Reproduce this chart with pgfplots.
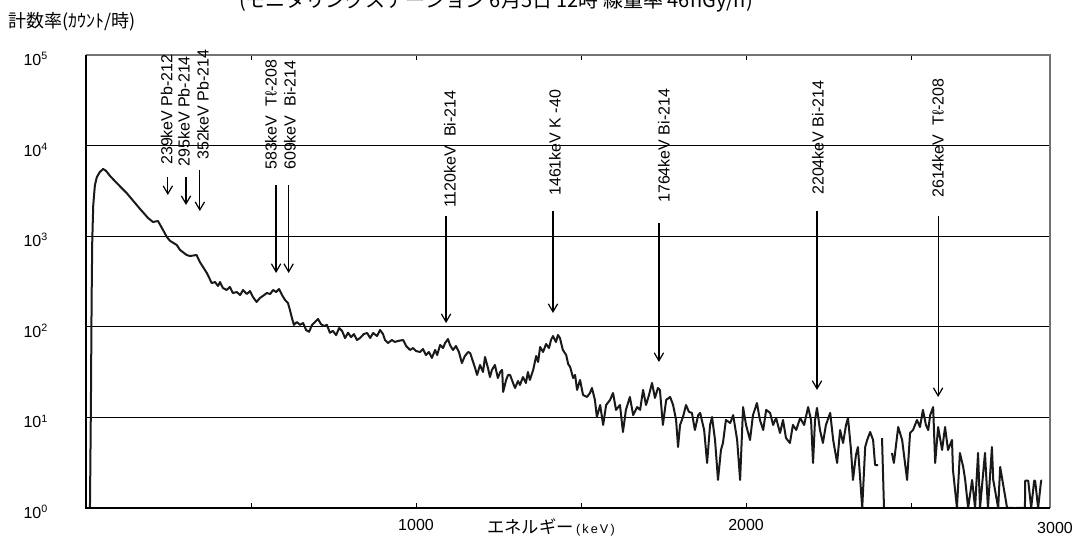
\documentclass[border=0pt]{standalone}
\usepackage{pgfplots}
\pgfplotsset{compat=1.18}
\usepackage{fontspec}
\setmainfont{Liberation Sans}
\newfontfamily\jp{Noto Sans CJK JP}
\usetikzlibrary{arrows.meta}
\begin{document}
\begin{tikzpicture}
\begin{axis}[
  at={(0,0)}, anchor=south west,
  scale only axis, width=723pt, height=339.75pt,
  xmin=0, xmax=2921, ymode=log, ymin=1, ymax=100000,
  axis line style={draw=none},
  xtick={500,1000,1500,2000,2500}, xticklabels={,1000,,2000,},
  xtick align=inside, major tick length=3.5pt,
  x tick style={black, line width=0.6pt},
  ytick={1,10,100,1000,10000,100000},
  yticklabels={10\textsuperscript{0},10\textsuperscript{1},10\textsuperscript{2},10\textsuperscript{3},10\textsuperscript{4},10\textsuperscript{5}},
  y tick style={draw=none},
  yticklabel style={font=\fontsize{12}{14}\selectfont, anchor=east, xshift=-25pt, yshift=-3pt},
  xticklabel style={font=\fontsize{12}{14}\selectfont, yshift=-5pt},
  ymajorgrids, major grid style={black, line width=0.6pt},
  unbounded coords=jump, clip=true,
]
\addplot[line width=1.5pt, color=black!90, line join=round] coordinates {
(12,1) (15,15.6) (17,198) (19,908) (22,2210) (27,3670) (33,4500) (42,5115) (52,5520) (61,5250) (73,4615) (93,3865) (123,3000) (164,1995) (188,1588) (203,1435) (218,1472) (230,1233) (245,980) (255,886) (275,800) (285,705) (305,620) (315,604) (335,620) (345,519) (366,393) (381,304) (391,312) (400,282) (406,312) (415,268) (426,255) (436,275) (445,236) (457,242) (467,224) (476,255) (487,230) (497,248) (506,213) (517,188) (527,208) (536,219) (548,236) (558,230) (567,255) (576,242) (585,261) (594,224) (603,198) (612,183) (618,153) (624,125) (630,105) (639,113) (648,105) (658,110) (667,92) (676,88) (685,105) (694,113) (703,122) (712,107) (721,102) (730,105) (739,86) (748,90) (758,81) (767,97) (776,90) (785,75) (794,86) (803,77) (812,83) (821,71.5) (830,75)
(842,83.3) (852,85.4) (861,75.2) (870,85.4) (882,79.1) (891,92.2) (900,83.3) (906,71.5) (915,66.2) (927,71.5) (936,68.0) (945,69.7) (961,71.5) (970,61.4) (982,55.5) (991,58.3) (1000,54.1) (1012,52.7) (1021,56.9) (1030,48.8) (1039,52.7) (1048,45.3) (1058,55.5) (1064,48.8) (1073,63.0) (1082,58.3) (1088,66.2) (1097,73.3) (1103,63.0) (1112,55.5) (1121,61.4) (1130,52.7) (1139,39.8) (1148,47.6) (1158,52.7) (1164,51.4) (1173,40.9) (1179,35.1) (1185,29.4) (1194,37.9) (1203,31.7) (1209,46.4) (1218,35.1) (1224,27.9) (1230,33.4) (1239,37.9) (1248,27.2) (1255,31.7) (1261,33.4) (1264,19.1) (1273,25.9) (1279,29.4) (1285,29.4) (1294,24.0) (1300,21.1) (1309,25.2) (1315,22.8) (1324,27.9) (1333,24.0) (1339,31.7) (1345,25.9) (1355,33.4) (1364,47.6) (1370,40.9) (1376,59.8) (1385,52.7) (1394,64.6) (1403,58.3) (1409,71.5) (1415,79.1) (1424,68.0) (1430,81.2) (1436,75.2) (1445,55.5) (1455,48.8) (1461,38.9) (1467,36.0) (1476,27.2) (1482,29.4) (1488,20.1) (1497,25.9) (1506,17.7) (1518,16.8) (1527,18.6) (1533,21.1) (1542,15.6) (1548,10.1) (1558,13.7) (1567,8.25) (1576,13.7) (1588,15.6) (1597,18.6) (1606,12.1) (1618,13.7) (1627,6.9) (1636,12.1) (1648,16.8) (1658,10.6) (1670,13.0) (1679,12.1) (1688,20.1) (1697,13.7) (1706,17.7) (1715,24.0) (1724,16.4) (1733,21.1) (1739,20.1) (1748,8.25) (1758,15.6) (1770,16.8) (1779,13.7) (1788,9.36) (1794,4.71) (1800,8.25) (1809,10.1) (1818,13.7) (1827,11.5) (1836,11.2) (1845,7.26) (1855,10.6) (1861,11.2)
(1873,7.26) (1882,3.14) (1891,8.25) (1897,10.1) (1906,5.63) (1915,2.04) (1924,4.37) (1930,5.22) (1939,9.36) (1952,8.68) (1961,10.6) (1973,5.63) (1982,2.04) (1991,13.0) (2000,8.25) (2012,5.63) (2021,10.6) (2033,14.4) (2042,9.36) (2052,7.26) (2061,12.1) (2073,11.2) (2082,8.25) (2091,9.85) (2103,6.73) (2112,9.36) (2121,5.92) (2133,5.22) (2142,8.25) (2152,7.26) (2164,9.85) (2176,8.25) (2188,13.0) (2197,9.36) (2203,3.14) (2209,9.36) (2215,12.7) (2224,7.26) (2233,5.22) (2242,8.25) (2255,11.2) (2264,5.63) (2276,3.14) (2285,7.26) (2294,5.22) (2303,8.25) (2309,9.85) (2318,4.37) (2324,2.04) (2333,3.85) (2339,4.71) (2352,1) (2361,4.71) (2367,5.63) (2376,6.9) (2385,5.63) (2391,2.98) (2400,2.98) (2406,nan) (2412,5.92) (2418,1) (2424,nan)
(2442,4.05) (2448,3.14) (2461,7.83) (2473,5.63) (2488,2.04) (2497,6.73) (2506,7.26) (2518,9.36) (2527,7.83) (2536,12.1) (2545,8.25) (2552,7.26) (2558,10.6) (2567,13.0) (2573,3.14) (2582,7.83) (2594,4.37) (2603,7.83) (2612,4.37) (2624,5.63) (2627,2.63) (2639,1) (2648,4.05) (2658,2.84) (2664,2.04) (2673,1) (2685,2.04) (2694,1) (2703,4.05) (2709,1) (2724,4.05) (2733,1) (2745,4.71) (2749,2.04) (2764,1) (2770,2.84) (2791,1) (2800,1) (2809,1) (2813,nan) (2818,1) (2830,1) (2839,1) (2845,1) (2846,2) (2855,2) (2864,1) (2873,2) (2876,2) (2885,1) (2894,2) (2897,2)
};
\draw[-{Straight Barb[length=6pt,width=7pt]}, line width=0.9pt] (axis cs:248,4500) -- (axis cs:248,2850);
\draw[-{Straight Barb[length=6pt,width=7pt]}, line width=0.9pt] (axis cs:303,4500) -- (axis cs:303,2210);
\draw[-{Straight Barb[length=6pt,width=7pt]}, line width=0.9pt] (axis cs:345,5380) -- (axis cs:345,1897);
\draw[-{Straight Barb[length=6pt,width=7pt]}, line width=0.9pt] (axis cs:576,3670) -- (axis cs:576,393);
\draw[-{Straight Barb[length=6pt,width=7pt]}, line width=0.9pt] (axis cs:614,3670) -- (axis cs:614,393);
\draw[-{Straight Barb[length=6pt,width=7pt]}, line width=0.9pt] (axis cs:1091,1671) -- (axis cs:1091,110);
\draw[-{Straight Barb[length=6pt,width=7pt]}, line width=0.9pt] (axis cs:1415,1897) -- (axis cs:1415,142);
\draw[-{Straight Barb[length=6pt,width=7pt]}, line width=0.9pt] (axis cs:1736,1400) -- (axis cs:1736,40.9);
\draw[-{Straight Barb[length=6pt,width=7pt]}, line width=0.9pt] (axis cs:2215,1897) -- (axis cs:2215,20.1);
\draw[-{Straight Barb[length=6pt,width=7pt]}, line width=0.9pt] (axis cs:2582,1671) -- (axis cs:2582,16.8);
\end{axis}
% frame
\draw[black!55, line width=1.4pt] (0,339.75pt) -- (723pt,339.75pt) -- (723pt,0);
\draw[black, line width=1.1pt] (0,339.75pt) -- (0,0) -- (723pt,0);
% annotations
\begin{scope}[every node/.style={rotate=90, anchor=west, inner sep=0pt, font=\fontsize{12}{14}\selectfont}]
\node at (60.5pt,257.25pt) {239keV Pb-212};
\node at (73.5pt,256pt) {295keV Pb-214};
\node at (87.75pt,261pt) {352keV Pb-214};
\node at (138.75pt,253.5pt) {583keV\ \ Tℓ-208};
\node at (153pt,253.5pt) {609keV\ \ Bi-214};
\node at (273pt,225pt) {1120keV\ \ Bi-214};
\node at (351.75pt,234pt) {1461keV K -40};
\node at (433.5pt,228.75pt) {1764keV Bi-214};
\node at (549pt,234.75pt) {2204keV Bi-214};
\node at (639pt,232.5pt) {2614keV\ \ Tℓ-208};
\end{scope}
\node[anchor=west, inner sep=0pt, font=\jp\fontsize{13.5}{15}\selectfont] at (-58.5pt,364.5pt) {計数率(ｶｳﾝﾄ/時)};
\node[anchor=base, inner sep=0pt, font=\jp\fontsize{15}{17}\selectfont] at (307.5pt,375.5pt) {(モニタリングステーション 6月5日 12時 線量率 46nGy/h)};
\node[anchor=west, inner sep=0pt] at (300.75pt,-14.25pt) {{\jp\fontsize{13}{15}\selectfont エネルギー}{\fontsize{9.5}{11}\selectfont\,(\,k\,e\,V\,)}};
\node[inner sep=0pt, font=\fontsize{12}{14}\selectfont] at (726.75pt,-15pt) {3000};
\pgfresetboundingbox
\useasboundingbox (-64.5pt,-25.5pt) rectangle (744.75pt,381pt);
\end{tikzpicture}
\end{document}
